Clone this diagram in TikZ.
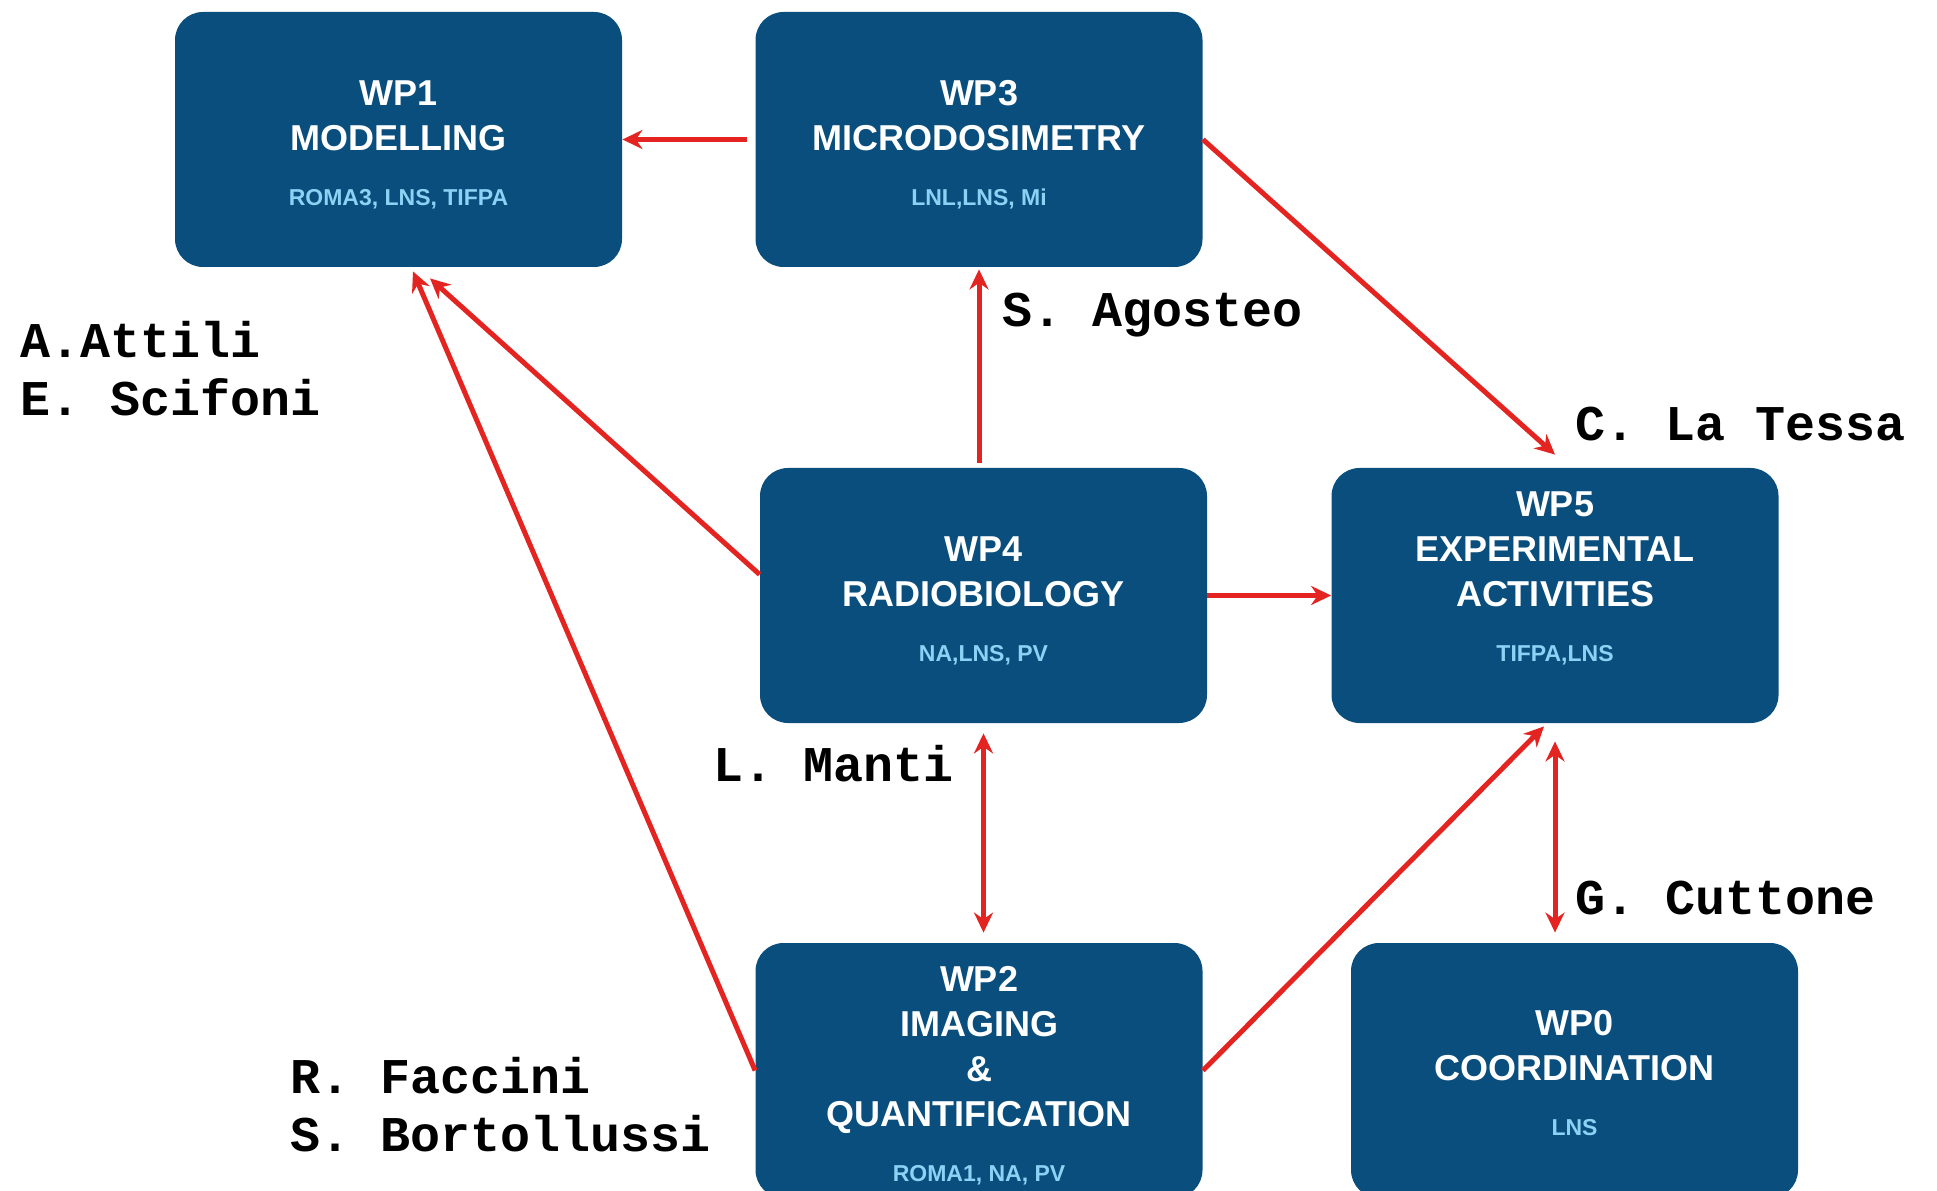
\documentclass[tikz,border=0pt]{standalone}
\usepackage{fontspec}
\setmainfont{Liberation Sans}
\setmonofont{Liberation Mono}
\usetikzlibrary{arrows.meta}
\definecolor{wpblue}{RGB}{10,78,125}
\definecolor{wpsub}{RGB}{140,210,245}
\definecolor{wpred}{RGB}{228,36,33}
\newcommand{\sites}[1]{{\fontsize{11.5}{13}\selectfont\color{wpsub}#1}}
\begin{document}
\begin{tikzpicture}[x=0.5pt,y=0.5pt,
    wpbox/.style={fill=wpblue,rounded corners=14pt,minimum width=223.5pt,minimum height=127.5pt,inner sep=0pt},
    wptext/.style={text=white,align=center,font=\fontsize{18}{22.5}\selectfont\bfseries,inner sep=0pt},
    person/.style={anchor=base west,inner sep=0pt,font=\fontsize{25}{29}\selectfont\ttfamily\bfseries},
    link/.style={draw=wpred,line width=2.5pt,-{Stealth[length=10pt,width=9.5pt]}},
    twoway/.style={link,{Stealth[length=10pt,width=9.5pt]}-{Stealth[length=10pt,width=9.5pt]}}]
    \useasboundingbox (0,0) rectangle (1937,1190);
    \clip (0,0) rectangle (1937,1190);

    \node[wpbox] (wp1) at (398.5,1050.5) {};
    \node[wpbox] (wp3) at (979,1050.5) {};
    \node[wpbox] (wp4) at (983.5,594.5) {};
    \node[wpbox] (wp5) at (1555,594.5) {};
    \node[wpbox] (wp2) at (979,119.5) {};
    \node[wpbox] (wp0) at (1574.5,119.5) {};

    \node[wptext] (wp1text) at ([yshift=-2.5pt]wp1.center) {WP1\\MODELLING\\[5pt]\sites{ROMA3, LNS, TIFPA}};
    \node[wptext] (wp3text) at ([yshift=-2.5pt]wp3.center) {WP3\\MICRODOSIMETRY\\[5pt]\sites{LNL,LNS, Mi}};
    \node[wptext] (wp4text) at ([yshift=-2.5pt]wp4.center) {WP4\\RADIOBIOLOGY\\[5pt]\sites{NA,LNS, PV}};
    \node[wptext] (wp5text) at ([yshift=8.5pt]wp5.center) {WP5\\EXPERIMENTAL\\ACTIVITIES\\[5pt]\sites{TIFPA,LNS}};
    \node[wptext] (wp2text) at ([yshift=-2.5pt]wp2.center) {WP2\\IMAGING\\\&\\QUANTIFICATION\\[5pt]\sites{ROMA1, NA, PV}};
    \node[wptext] (wp0text) at ([yshift=-1.5pt]wp0.center) {WP0\\COORDINATION\\[5pt]\sites{LNS}};

    \node[person] (attili) at (20,832) {A.Attili};
    \node[person] (scifoni) at (20,774) {E. Scifoni};
    \node[person] (agosteo) at (1002,863) {S. Agosteo};
    \node[person] (latessa) at (1575,749) {C. La Tessa};
    \node[person] (manti) at (713,409) {L. Manti};
    \node[person] (cuttone) at (1575,276) {G. Cuttone};
    \node[person] (faccini) at (290,97) {R. Faccini};
    \node[person] (bortollussi) at (290,39) {S. Bortollussi};

    \draw[link,shorten <=4pt] (wp3.west) -- (wp1.east);
    \draw[link] (wp3.east) -- ([yshift=6.5pt]wp5.north);
    \draw[link,shorten <=2.5pt,shorten >=1pt] (wp4.north -| wp3.south) -- (wp3.south);
    \draw[link] ([yshift=10.5pt]wp4.west) -- ([xshift=15.75pt,yshift=-5.5pt]wp1.south);
    \draw[link] (wp2.west) -- ([xshift=7.25pt,yshift=-2pt]wp1.south);
    \draw[link] (wp4.east) -- (wp5.west);
    \draw[twoway,shorten <=5pt,shorten >=5pt] (wp4.south) -- (wp4.south |- wp2.north);
    \draw[link] (wp2.east) -- ([xshift=-5.5pt,yshift=-1.5pt]wp5.south);
    \draw[twoway,shorten <=9pt,shorten >=5pt] (wp5.south) -- (wp5.south |- wp0.north);
\end{tikzpicture}
\end{document}
